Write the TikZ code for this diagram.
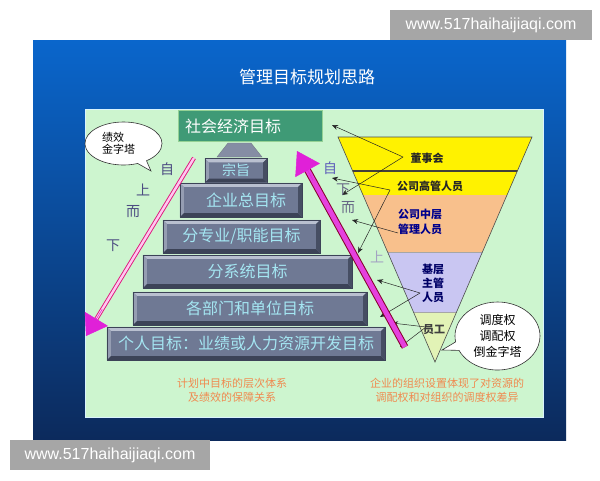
\documentclass[tikz,border=0pt]{standalone}
\usepackage{fontspec}
\newfontfamily\cjk{Noto Sans CJK SC}
\newfontfamily\wm{Liberation Sans}
\usetikzlibrary{arrows.meta,shapes.callouts,shapes.geometric,calc}
\definecolor{bluetop}{HTML}{0A66CC}
\definecolor{bluemid}{HTML}{0B4EA6}
\definecolor{bluebot}{HTML}{0C2A5C}
\definecolor{panelgreen}{HTML}{CDF5CF}
\definecolor{boxgray}{HTML}{6F7994}
\definecolor{boxtext}{HTML}{A4E6F2}
\definecolor{bevlight}{HTML}{B9C0D0}
\definecolor{bevmid}{HTML}{959DB2}
\definecolor{bevdark}{HTML}{3C4357}
\definecolor{topgreen}{HTML}{3F9A76}
\definecolor{arrowmag}{HTML}{E020D8}
\definecolor{fyellow}{HTML}{FFF200}
\definecolor{forange}{HTML}{F8C08C}
\definecolor{flav}{HTML}{C9C6F2}
\definecolor{fpale}{HTML}{E2F3B6}
\definecolor{bottext}{HTML}{F08A50}
\definecolor{wmgray}{HTML}{A6A6A6}
\begin{document}
\begin{tikzpicture}[x=1pt,y=-1pt,
  stepbox/.style={rectangle, fill=boxgray, text=boxtext, inner sep=0pt,
    font=\cjk\fontsize{16}{16}\selectfont},
  sidelabel/.style={font=\cjk\fontsize{14}{14}\selectfont, inner sep=0pt},
  ftext/.style={font=\cjk\bfseries\fontsize{11}{14}\selectfont, align=center, inner sep=0pt},
  bottomnote/.style={font=\cjk\fontsize{11}{14}\selectfont, text=bottext, align=center, inner sep=0pt},
  linkarrow/.style={draw=black!85, line width=0.5pt, -{Stealth[length=6pt,width=5pt]}},
  bubble/.style={ellipse callout, draw=black!80, fill=white, line width=0.6pt,
    font=\cjk\fontsize{12}{16}\selectfont, inner sep=0pt},
  watermark/.style={fill=wmgray, text=white, font=\wm\fontsize{16}{16}\selectfont, inner sep=0pt}
]
\useasboundingbox (0,0) rectangle (600,480);
\fill[white] (0,0) rectangle (600,480);
% blue slide
\shade[top color=bluetop, middle color=bluemid, bottom color=bluebot] (33,40) rectangle (566,440);
\node[text=white, font=\cjk\fontsize{17}{17}\selectfont, inner sep=0pt] (title) at (307,77) {管理目标规划思路};
% green panel
\fill[panelgreen, draw=white!85!cyan, line width=1pt] (85,109) rectangle (543,417);

% top green box
\node[rectangle, fill=topgreen, draw=gray!60!green!60, line width=1pt, minimum width=144, minimum height=31, inner sep=0pt] (b0) at (250.5,126) {};
\node[anchor=west, text=white, font=\cjk\fontsize{16}{16}\selectfont, inner sep=0pt] (b0t) at (185,126) {社会经济目标};
% trapezoid connector
\fill[boxgray!85!white, draw=bevdark!70, line width=0.4pt] (228,143) -- (251,143) -- (262,157) -- (217,157) -- cycle;

% steps
\node[stepbox, minimum width=62, minimum height=24, font=\cjk\fontsize{14}{14}\selectfont] (b1) at (236,170.5) {宗旨};
\node[stepbox, minimum width=122, minimum height=34] (b2) at (241,200) {\hspace{10pt}企业总目标};
\node[stepbox, minimum width=157, minimum height=33] (b3) at (241.5,236.5) {分专业/职能目标};
\node[stepbox, minimum width=209, minimum height=33] (b4) at (247.5,271.5) {分系统目标};
\node[stepbox, minimum width=234, minimum height=33] (b5) at (250,308.5) {各部门和单位目标};
\node[stepbox, minimum width=278, minimum height=33] (b6) at (246,343.5) {个人目标：业绩或人力资源开发目标};
\foreach \n in {b1,b2,b3,b4,b5,b6}{
  \fill[bevlight] (\n.north west) -- (\n.north east) -- ([shift={(-4,4)}]\n.north east) -- ([shift={(4,4)}]\n.north west) -- cycle;
  \fill[bevmid] (\n.north west) -- ([shift={(4,4)}]\n.north west) -- ([shift={(4,-4)}]\n.south west) -- (\n.south west) -- cycle;
  \fill[bevdark] (\n.south west) -- ([shift={(4,-4)}]\n.south west) -- ([shift={(-4,-4)}]\n.south east) -- (\n.south east) -- cycle;
  \fill[bevdark!80!boxgray] (\n.north east) -- (\n.south east) -- ([shift={(-4,-4)}]\n.south east) -- ([shift={(-4,4)}]\n.north east) -- cycle;
  \draw[bevdark, line width=0.4pt] (\n.north west) rectangle (\n.south east);
}

% inverted funnel
\begin{scope}
  \clip (338,137) -- (532,137) -- (435,362) -- cycle;
  \fill[fyellow] (330,137) rectangle (540,195);
  \fill[forange] (330,195) rectangle (540,252);
  \fill[flav] (330,252) rectangle (540,312);
  \fill[fpale] (330,312) rectangle (540,365);
  \draw[black!75!yellow!60!black, line width=2.2pt] (330,171) -- (540,171);
  \draw[gray!70, line width=0.5pt] (330,252) -- (540,252);
  \draw[gray!70, line width=0.5pt] (330,312) -- (540,312);
\end{scope}
\draw[black!70, line width=0.6pt] (338,137) -- (532,137) -- (435,362) -- cycle;
\node[ftext, text=black!85] (f1) at (427,158) {董事会};
\node[ftext, text=black!85] (f2) at (430,186) {公司高管人员};
\node[ftext, text=blue!55!black, font=\cjk\bfseries\fontsize{11}{15}\selectfont] (f3) at (420,222) {公司中层\\管理人员};
\node[ftext, text=blue!40!black, font=\cjk\bfseries\fontsize{11}{14}\selectfont] (f4) at (433,283) {基层\\主管\\人员};
\node[ftext, text=black!75] (f5) at (434,330) {员工};

% thin black link arrows
\coordinate (P1) at (403,157);
\coordinate (Q1) at (332,125);
\coordinate (Q2) at (342,195);
\coordinate (P2) at (390,190);
\coordinate (Q3) at (332,178);
\coordinate (Q4) at (358,253);
\coordinate (P3) at (398,233);
\coordinate (Q5) at (352,220);
\coordinate (P5) at (420,293);
\coordinate (Q6) at (377,280);
\coordinate (Q8) at (380,317);
\coordinate (P6) at (426,327);
\coordinate (Q9) at (392,323);
\coordinate (Q10) at (400,347);
\draw[linkarrow] (P1) -- (Q1);
\draw[linkarrow] (P1) -- (Q2);
\draw[linkarrow] (P2) -- (Q3);
\draw[linkarrow] (P2) -- (Q4);
\draw[linkarrow] (P3) -- (Q5);
\draw[linkarrow] (P5) -- (Q6);
\draw[linkarrow] (P5) -- (Q8);
\draw[linkarrow] (P6) -- (Q9);
\draw[linkarrow] (P6) -- (Q10);

% left magenta arrow (top down)
\coordinate (L1) at (194,158);
\coordinate (L2) at (86,336);
\draw[draw=magenta!70!purple, line width=0.9pt, double=pink!60!magenta!40, double distance=2.4pt, shorten >=16pt] (L1) -- (L2);
\draw[arrowmag, line width=0.5pt, -{Triangle[length=20pt,width=27pt]}] ($(L1)!0.85!(L2)$) -- (L2);
% right magenta arrow (bottom up)
\coordinate (R1) at (405,347);
\coordinate (R2) at (297,151);
\draw[draw=purple!70!black, line width=1pt, double=arrowmag!85!white, double distance=5pt, shorten >=18pt] (R1) -- (R2);
\draw[arrowmag, line width=0.5pt, -{Triangle[length=22pt,width=28pt]}] ($(R1)!0.85!(R2)$) -- (R2);

% side labels
\node[sidelabel, text=blue!30!black!70] (l1) at (167,169) {自};
\node[sidelabel, text=blue!30!black!70] (l2) at (143,190) {上};
\node[sidelabel, text=blue!30!black!70] (l3) at (133,212) {而};
\node[sidelabel, text=blue!30!black!70] (l4) at (113,246) {下};
\node[sidelabel, text=blue!40!gray!90] (r1) at (330,168) {自};
\node[sidelabel, text=blue!20!black!60] (r2) at (343,190) {下};
\node[sidelabel, text=blue!20!black!60] (r3) at (348,208) {而};
\node[sidelabel, text=blue!20!gray!60] (r4) at (377,257) {上};

% bubbles
\node[bubble, minimum width=77, minimum height=43, callout absolute pointer={(151,171)}] (bl) at (123.5,143.5) {};
\node[font=\cjk\fontsize{11}{12}\selectfont, align=left, inner sep=0pt, anchor=west] (blt) at (102,143) {绩效\\金字塔};
\node[bubble, minimum width=85, minimum height=68, callout absolute pointer={(442,350)}, align=center] (br) at (497.5,336) {调度权\\调配权\\倒金字塔};

% bottom notes
\node[bottomnote] (n1) at (232,390) {计划中目标的层次体系\\及绩效的保障关系};
\node[bottomnote] (n2) at (447,390) {企业的组织设置体现了对资源的\\调配权和对组织的调度权差异};

% watermarks
\node[watermark, minimum width=202, minimum height=30] (w1) at (491,25) {www.517haihaijiaqi.com};
\node[watermark, minimum width=200, minimum height=30] (w2) at (110,455) {www.517haihaijiaqi.com};
\end{tikzpicture}
\end{document}
